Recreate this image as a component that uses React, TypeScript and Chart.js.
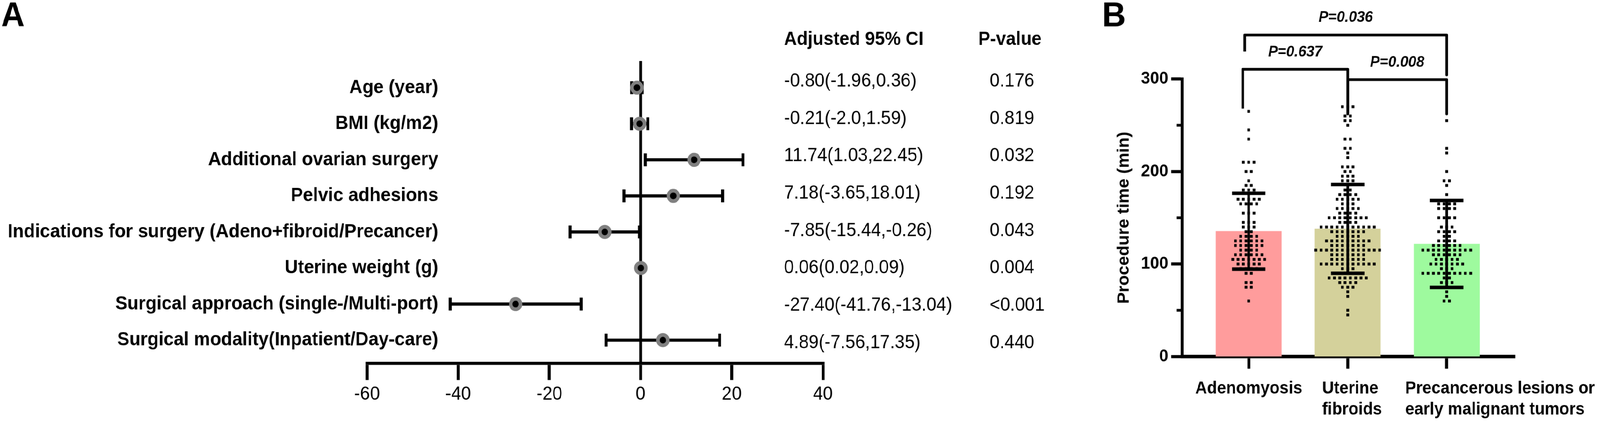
import React, { useEffect, useRef, useState } from 'react';
import { Chart, registerables } from 'chart.js';

Chart.register(...registerables);

const FONT = '"Liberation Sans", Arial, Helvetica, sans-serif';
const PAGE_W = 4317;
const PAGE_H = 1085;

// ---------------- Panel A data ----------------
const FACTORS = [
  'Age (year)',
  'BMI (kg/m2)',
  'Additional ovarian surgery',
  'Pelvic adhesions',
  'Indications for surgery (Adeno+fibroid/Precancer)',
  'Uterine weight (g)',
  'Surgical approach (single-/Multi-port)',
  'Surgical modality(Inpatient/Day-care)',
];
const ESTIMATES = [-0.8, -0.21, 11.74, 7.18, -7.85, 0.06, -27.4, 4.89];
const CI_LOWER = [-1.96, -2.0, 1.03, -3.65, -15.44, 0.02, -41.76, -7.56];
const CI_UPPER = [0.36, 1.59, 22.45, 18.01, -0.26, 0.09, -13.04, 17.35];
const CI_TEXT = [
  '-0.80(-1.96,0.36)',
  '-0.21(-2.0,1.59)',
  '11.74(1.03,22.45)',
  '7.18(-3.65,18.01)',
  '-7.85(-15.44,-0.26)',
  '0.06(0.02,0.09)',
  '-27.40(-41.76,-13.04)',
  '4.89(-7.56,17.35)',
];
const P_TEXT = ['0.176', '0.819', '0.032', '0.192', '0.043', '0.004', '<0.001', '0.440'];
const TABLE_HEADERS = ['Adjusted 95% CI', 'P-value'];
const X_MIN_A = -60;
const X_MAX_A = 40;
const X_STEP_A = 20;

// ---------------- Panel B data ----------------
const GROUPS = [['Adenomyosis'], ['Uterine', 'fibroids'], ['Precancerous lesions or', 'early malignant tumors']];
const GROUP_MEANS = [135.5, 138, 121.7];
const GROUP_SD = [41, 48, 47];
const Y_TICKS_B = [0, 100, 200, 300];
const MINOR_TICKS_B = [50, 150, 250];

const ADENO_TIMES = [
  265, 245, 235, 210, 210, 210, 200, 200, 190, 185, 185, 180, 180, 180,
  170, 170, 170, 170, 170, 165, 165, 165, 165, 155, 155, 155, 145, 145, 145,
  140, 140, 140, 135, 135, 130, 130, 130, 130, 125, 125, 125, 125, 125, 125,
  120, 120, 120, 120, 120, 120, 115, 115, 115, 115, 110, 110, 110, 110, 110, 110,
  105, 105, 105, 105, 105, 105, 105, 100, 100, 100, 100, 100, 95, 95, 95, 95,
  90, 90, 80, 80, 75, 75, 60,
];
const UTERINE_TIMES = [
  270, 270, 270, 260, 260, 255, 255, 250, 235, 235, 225, 225, 220, 215,
  205, 205, 205, 200, 200, 195, 195, 195, 190, 190, 190, 180, 180,
  175, 175, 175, 175, 170, 170, 170, 170, 170, 165, 165, 165,
  160, 160, 160, 160, 160, 155, 155, 155, 155,
  150, 150, 150, 150, 150, 150, 150, 150, 145, 145, 145, 145,
  140, 140, 140, 140, 140, 140, 140, 140, 140, 140, 140,
  135, 135, 135, 135, 135, 135, 135, 130, 130, 130, 130, 130,
  125, 125, 125, 125, 125, 125, 125, 125, 125, 120, 120, 120, 120, 120, 120, 120,
  115, 115, 115, 115, 115, 115, 115, 115, 115, 115, 115, 115, 115,
  110, 110, 110, 110, 110, 110, 110, 105, 105, 105, 105, 105, 105, 105,
  100, 100, 100, 100, 100, 100, 100, 100, 100, 100, 100, 95, 95, 95,
  85, 85, 85, 85, 85, 85, 85, 85, 80, 80, 80, 80, 75, 75, 75, 70, 65, 50, 45,
];
const PRECANCER_TIMES = [
  255, 225, 220, 200, 190, 190, 185, 175, 165, 165, 165, 165, 160, 160, 160, 160,
  150, 150, 150, 150, 140, 140, 140, 135, 135, 135, 135, 130, 130,
  125, 125, 125, 125, 120, 120, 120, 120, 120, 120,
  115, 115, 115, 115, 115, 115, 115, 115, 115, 115, 110, 110, 110, 110, 110, 110,
  105, 105, 105, 105, 105, 100, 100, 100, 100, 100, 100, 100, 95, 95, 95,
  90, 90, 90, 90, 90, 90, 90, 90, 90, 90, 85, 85, 80, 80, 80, 70, 65, 60, 60,
];
const GROUP_TIMES = [ADENO_TIMES, UTERINE_TIMES, PRECANCER_TIMES];

const BRACKET_LABELS = ['P=0.036', 'P=0.637', 'P=0.008'];
const BRACKET_FROM = [-0.04, -0.06, 1];
const BRACKET_TO = [2, 1, 2];
const BRACKET_TOP = [347.5, 310.5, 299.3];
const BRACKET_LEFT_END = [329.7, 268, 262.2];
const BRACKET_RIGHT_END = [304.4, 262.2, 262.2];

// ---------------- styles / layout ----------------
const BAR_COLORS = ['#FF9C9C', '#D4D19B', '#9EFA9E'];
const X_MIN_B = -0.67;
const X_MAX_B = 2.689;
const DOT_STEP = 0.0537;
const X_LABEL_SHIFT = [-144, -69, -112];
const X_LABEL_Y = [994, 1048];

const zeroPad = (s: any) => {
  s.paddingTop = 0;
  s.paddingBottom = 0;
  s.paddingLeft = 0;
  s.paddingRight = 0;
};

function layoutDots(times: number[], gi: number) {
  const counts = new Map<number, number>();
  times.forEach((t) => counts.set(t, (counts.get(t) || 0) + 1));
  const seen = new Map<number, number>();
  return times.map((t) => {
    const n = counts.get(t) || 1;
    const k = seen.get(t) || 0;
    seen.set(t, k + 1);
    return { x: gi + (k - (n - 1) / 2) * DOT_STEP, y: t };
  });
}

function ForestPanel({ dpr }: { dpr: number }) {
  const ref = useRef<HTMLCanvasElement>(null);
  useEffect(() => {
    const rows = FACTORS.map((_, i) => i + 1);
    const ciSets: any[] = FACTORS.map((_, i) => ({
      type: 'line',
      showLine: true,
      data: [
        { x: CI_LOWER[i], y: rows[i] },
        { x: CI_UPPER[i], y: rows[i] },
      ],
      borderColor: '#000',
      borderWidth: 8,
      pointStyle: 'line',
      pointRotation: 90,
      pointRadius: 16.5,
      pointHoverRadius: 16.5,
      pointBorderWidth: 8,
      pointBorderColor: '#000',
      pointBackgroundColor: '#000',
      fill: false,
      clip: false,
      order: 2,
    }));
    const estSet: any = {
      type: 'scatter',
      data: ESTIMATES.map((v, i) => ({ x: v, y: rows[i] })),
      pointStyle: 'circle',
      pointRadius: 13.3,
      pointHoverRadius: 13.3,
      pointBorderWidth: 9.4,
      pointBorderColor: '#808080',
      pointBackgroundColor: '#000',
      clip: false,
      order: 1,
    };
    const textPlugin = {
      id: 'textA',
      afterDraw(chart: any) {
        const { ctx, chartArea, scales } = chart;
        ctx.save();
        ctx.fillStyle = '#000';
        ctx.textBaseline = 'alphabetic';
        ctx.textAlign = 'left';
        ctx.font = `bold 88px ${FONT}`;
        ctx.fillText('A', 3, 67);

        ctx.textBaseline = 'middle';
        ctx.textAlign = 'right';
        ctx.font = `bold 49px ${FONT}`;
        FACTORS.forEach((f, i) => {
          ctx.fillText(f, chartArea.left + 192, scales.y.getPixelForValue(i + 1));
        });

        ctx.textAlign = 'left';
        ctx.font = `bold 48px ${FONT}`;
        ctx.fillText(TABLE_HEADERS[0], 2115, 102);
        ctx.fillText(TABLE_HEADERS[1], 2639, 102);
        ctx.font = `48px ${FONT}`;
        CI_TEXT.forEach((t, i) => ctx.fillText(t, 2115, 208 + i * 95.6));
        P_TEXT.forEach((t, i) => ctx.fillText(t, 2670, 208 + i * 95.6));
        ctx.restore();
      },
    };
    const chart = new Chart(ref.current as HTMLCanvasElement, {
      type: 'scatter',
      data: { datasets: [...ciSets, estSet] },
      options: {
        animation: false,
        responsive: false,
        devicePixelRatio: dpr,
        events: [],
        layout: { padding: { left: 990, right: 740, top: 156, bottom: 0 } },
        plugins: { legend: { display: false }, tooltip: { enabled: false } },
        scales: {
          x: {
            type: 'linear',
            min: X_MIN_A,
            max: X_MAX_A,
            ticks: {
              stepSize: X_STEP_A,
              color: '#000',
              padding: 8,
              font: { family: FONT, size: 48 },
            },
            grid: {
              drawOnChartArea: true,
              drawTicks: true,
              tickLength: 43,
              tickWidth: 8,
              tickColor: '#000',
              lineWidth: 8,
              color: (c: any) => (c.tick && c.tick.value === 0 ? '#000' : 'rgba(0,0,0,0)'),
            },
            border: { display: true, color: '#000', width: 8 },
            afterFit: (s: any) => {
              s.height = 156;
              zeroPad(s);
            },
          },
          y: {
            type: 'linear',
            reverse: true,
            min: 0.26,
            max: 8.64,
            display: false,
            afterFit: (s: any) => zeroPad(s),
          },
        },
      } as any,
      plugins: [textPlugin],
    });
    return () => chart.destroy();
  }, [dpr]);
  return (
    <canvas
      ref={ref}
      width={2960}
      height={1085}
      style={{ position: 'absolute', left: 0, top: 0, width: 2960, height: 1085 }}
    />
  );
}

function BarPanel({ dpr }: { dpr: number }) {
  const ref = useRef<HTMLCanvasElement>(null);
  useEffect(() => {
    const barSet: any = {
      type: 'bar',
      data: GROUP_MEANS.map((m, i) => ({ x: i, y: m })),
      backgroundColor: BAR_COLORS,
      borderWidth: 0,
      barThickness: 177,
      order: 4,
    };
    const dotSets: any[] = GROUP_TIMES.map((times, gi) => ({
      type: 'scatter',
      data: layoutDots(times, gi),
      pointStyle: 'rect',
      pointRadius: 5.2,
      pointHoverRadius: 5.2,
      pointBorderWidth: 0,
      pointBackgroundColor: '#000',
      order: 3,
    }));
    const sdSets: any[] = GROUP_MEANS.map((m, i) => ({
      type: 'line',
      showLine: true,
      data: [
        { x: i, y: m - GROUP_SD[i] },
        { x: i, y: m + GROUP_SD[i] },
      ],
      borderColor: '#000',
      borderWidth: 7,
      pointStyle: 'line',
      pointRadius: 45,
      pointHoverRadius: 45,
      pointBorderWidth: 9,
      pointBorderColor: '#000',
      pointBackgroundColor: '#000',
      fill: false,
      order: 2,
    }));
    const bracketSets: any[] = BRACKET_LABELS.map((_, i) => ({
      type: 'line',
      showLine: true,
      data: [
        { x: BRACKET_FROM[i], y: BRACKET_LEFT_END[i] },
        { x: BRACKET_FROM[i], y: BRACKET_TOP[i] },
        { x: BRACKET_TO[i], y: BRACKET_TOP[i] },
        { x: BRACKET_TO[i], y: BRACKET_RIGHT_END[i] },
      ],
      borderColor: '#000',
      borderWidth: 7,
      borderJoinStyle: 'round',
      pointRadius: 0,
      pointHoverRadius: 0,
      fill: false,
      clip: false,
      order: 1,
    }));
    const textPlugin = {
      id: 'textB',
      afterDraw(chart: any) {
        const { ctx, chartArea, scales } = chart;
        const { x, y } = scales;
        ctx.save();
        ctx.strokeStyle = '#000';
        ctx.lineWidth = 7;
        MINOR_TICKS_B.forEach((v) => {
          const py = y.getPixelForValue(v);
          ctx.beginPath();
          ctx.moveTo(chartArea.left - 15, py);
          ctx.lineTo(chartArea.left, py);
          ctx.stroke();
        });
        ctx.fillStyle = '#000';
        ctx.textAlign = 'left';
        ctx.textBaseline = 'alphabetic';
        ctx.font = `bold 88px ${FONT}`;
        ctx.fillText('B', 14, 67);

        ctx.textBaseline = 'middle';
        ctx.font = `bold 44px ${FONT}`;
        GROUPS.forEach((lines, i) => {
          lines.forEach((ln, j) => {
            ctx.fillText(ln, x.getPixelForValue(i) + X_LABEL_SHIFT[i], X_LABEL_Y[j]);
          });
        });

        ctx.textAlign = 'center';
        ctx.font = `italic bold 39px ${FONT}`;
        BRACKET_LABELS.forEach((t, i) => {
          const cx = (x.getPixelForValue(BRACKET_FROM[i]) + x.getPixelForValue(BRACKET_TO[i])) / 2;
          ctx.fillText(t, cx, y.getPixelForValue(BRACKET_TOP[i]) - 44);
        });
        ctx.restore();
      },
    };
    const chart = new Chart(ref.current as HTMLCanvasElement, {
      type: 'bar',
      data: { datasets: [barSet, ...dotSets, ...sdSets, ...bracketSets] },
      options: {
        animation: false,
        responsive: false,
        devicePixelRatio: dpr,
        events: [],
        layout: { padding: { left: 42.6, right: 230, top: 202, bottom: 0 } },
        plugins: { legend: { display: false }, tooltip: { enabled: false } },
        scales: {
          x: {
            type: 'linear',
            min: X_MIN_B,
            max: X_MAX_B,
            offset: false,
            afterBuildTicks: (s: any) => {
              s.ticks = GROUPS.map((_, i) => ({ value: i }));
            },
            ticks: { display: false },
            grid: {
              offset: false,
              drawOnChartArea: false,
              drawTicks: true,
              tickLength: 31,
              tickWidth: 8,
              tickColor: '#000',
            },
            border: { display: true, color: '#000', width: 9 },
            afterFit: (s: any) => {
              s.height = 173;
              zeroPad(s);
            },
          },
          y: {
            type: 'linear',
            min: 0,
            max: 300,
            afterBuildTicks: (s: any) => {
              s.ticks = Y_TICKS_B.map((v) => ({ value: v }));
            },
            ticks: {
              color: '#000',
              padding: 8,
              font: { family: FONT, size: 44, weight: 'bold' },
            },
            grid: {
              drawOnChartArea: false,
              drawTicks: true,
              tickLength: 30,
              tickWidth: 8,
              tickColor: '#000',
            },
            border: { display: true, color: '#000', width: 8 },
            title: {
              display: true,
              text: 'Procedure time (min)',
              color: '#000',
              padding: { top: 4, bottom: 4 },
              font: { family: FONT, size: 44, weight: 'bold' },
            },
            afterFit: (s: any) => {
              s.width = 187.4;
              zeroPad(s);
            },
          },
        },
      } as any,
      plugins: [textPlugin],
    });
    return () => chart.destroy();
  }, [dpr]);
  return (
    <canvas
      ref={ref}
      width={1357}
      height={1085}
      style={{ position: 'absolute', left: 2960, top: 0, width: 1357, height: 1085 }}
    />
  );
}

export default function App() {
  const [fit] = useState(() => {
    const w = typeof window !== 'undefined' ? window.innerWidth : PAGE_W;
    const h = typeof window !== 'undefined' ? window.innerHeight : PAGE_H;
    const base = typeof window !== 'undefined' ? window.devicePixelRatio || 1 : 1;
    const sx = w / PAGE_W;
    const sy = h / PAGE_H;
    return { sx, sy, dpr: base * sx };
  });
  return (
    <div
      style={{
        position: 'fixed',
        left: 0,
        top: 0,
        width: '100vw',
        height: '100vh',
        overflow: 'hidden',
        background: '#fff',
      }}
    >
      <div
        style={{
          position: 'absolute',
          left: 0,
          top: 0,
          width: PAGE_W,
          height: PAGE_H,
          transform: `scale(${fit.sx}, ${fit.sy})`,
          transformOrigin: '0 0',
        }}
      >
        <ForestPanel dpr={fit.dpr} />
        <BarPanel dpr={fit.dpr} />
      </div>
    </div>
  );
}
